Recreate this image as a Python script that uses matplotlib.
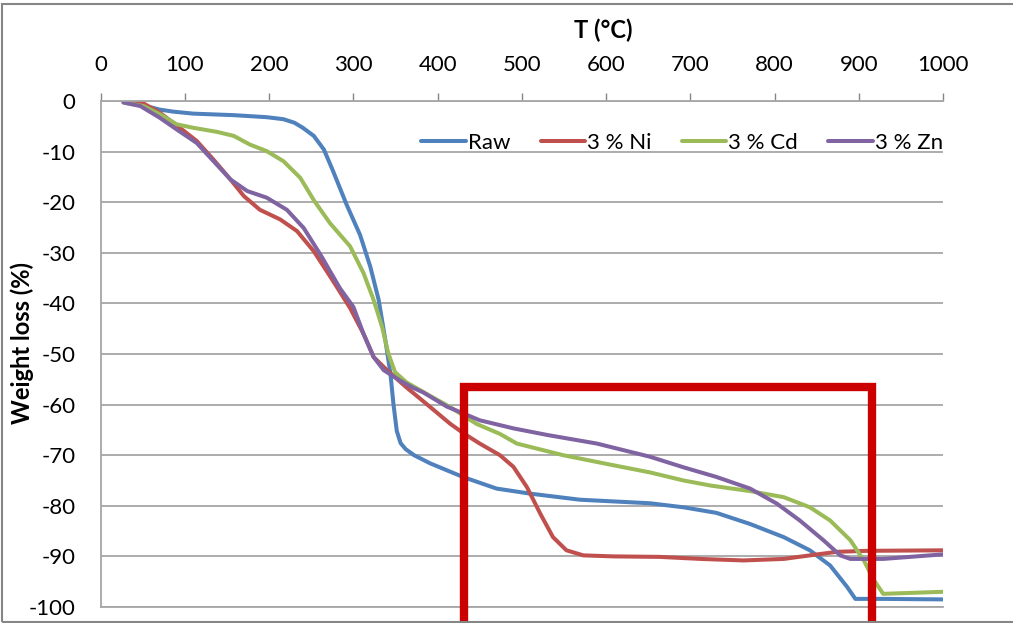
import matplotlib
matplotlib.use("Agg")
import matplotlib.pyplot as plt
from matplotlib.patches import Rectangle
import numpy as np

plt.rcParams['font.family'] = ['Lato', 'DejaVu Sans']
plt.rcParams['axes.unicode_minus'] = False

# TGA curves: temperature (°C) vs weight loss (%)
raw_T = [27, 47, 70, 86, 110, 158, 197, 217, 230, 240, 253, 265, 276, 292, 308, 320, 330,
         338, 344, 347.5, 351.5, 356, 362, 372, 391, 430, 470, 510, 569, 652, 692, 731, 771,
         811, 842, 866, 886, 896, 929, 1000]
raw_W = [0, -0.7, -1.7, -2.1, -2.5, -2.8, -3.2, -3.6, -4.3, -5.3, -6.9, -9.6, -13.9, -20.5,
         -26.5, -32.7, -39.3, -47.3, -53.9, -59.8, -65.2, -67.6, -68.8, -70, -71.6, -74.3,
         -76.6, -77.6, -78.8, -79.5, -80.3, -81.4, -83.6, -86.2, -88.8, -91.8, -96, -98.4,
         -98.4, -98.5]

ni_T = [31, 51, 70, 94, 114, 134, 154, 170, 189, 213, 233, 253, 276, 296, 312, 324, 340,
        363, 387, 415, 431, 450, 474, 490, 506, 522, 537, 553, 573, 609, 664, 712, 763,
        811, 842, 874, 910, 1000]
ni_W = [0, -0.5, -2.3, -5.3, -7.9, -11.6, -15.5, -18.8, -21.5, -23.4, -25.7, -29.7, -35.6,
        -40.9, -46, -50.6, -53.2, -56.6, -59.9, -63.8, -65.7, -67.7, -70, -72.3, -76.3,
        -81.6, -86.2, -88.8, -89.8, -90, -90.1, -90.5, -90.8, -90.5, -89.8, -89.1, -88.9, -88.8]

cd_T = [27, 51, 70, 90, 110, 138, 158, 177, 197, 217, 237, 253, 272, 296, 312, 324, 334,
        341.5, 349.5, 363, 387, 415, 446, 474, 494, 549, 609, 652, 692, 724, 771, 811, 842,
        866, 890, 906, 918, 929, 1000]
cd_W = [-0.3, -1, -2.6, -4.6, -5.3, -6.1, -6.9, -8.6, -9.9, -11.9, -15.2, -19.6, -24.1,
        -28.7, -34, -39.3, -44.6, -49.9, -53.6, -55.6, -57.9, -60.5, -63.8, -65.8, -67.7,
        -70, -72, -73.4, -75, -76, -77.1, -78.3, -80.3, -82.9, -86.8, -90.8, -94.7, -97.4, -97]

zn_T = [27, 47, 70, 90, 114, 134, 154, 174, 197, 221, 241, 261, 284, 300, 312, 324, 336,
        355, 371, 383, 411, 450, 490, 530, 589, 652, 692, 731, 771, 803, 830, 858, 878, 890,
        929, 1000]
zn_W = [-0.3, -1, -3.3, -5.6, -8.3, -11.9, -15.5, -17.8, -19.1, -21.5, -25.1, -30.4, -37,
        -40.7, -46, -50.6, -53.2, -55.2, -56.7, -57.6, -60.4, -63.1, -64.7, -66, -67.7,
        -70.3, -72.4, -74.3, -76.6, -79.6, -82.9, -86.8, -89.8, -90.5, -90.5, -89.6]

series_names = ['Raw', '3 % Ni', '3 % Cd', '3 % Zn']
series_colors = ['#4F81BD', '#C0504D', '#9BBB59', '#8064A2']

# highlighted region (T range and upper weight level)
box_T = [431, 916]
box_top = -56.6

fig = plt.figure(figsize=(10.13, 6.23), dpi=100)
ax = fig.add_axes([0.0994, 0.0257, 0.8315, 0.8122])

curves = [(raw_T, raw_W), (ni_T, ni_W), (cd_T, cd_W), (zn_T, zn_W)]
for (t, w), name, c in zip(curves, series_names, series_colors):
    ax.plot(t, w, color=c, lw=2.9, label=name, solid_capstyle='round',
            solid_joinstyle='round')

ax.set_xlim(0, 1000)
ax.set_ylim(-100, 0)
ax.set_xticks(np.arange(0, 1001, 100))
ax.set_yticks(np.arange(-100, 1, 10))
ax.xaxis.tick_top()
ax.tick_params(axis='x', direction='out', length=6, width=1, color='#868686',
               labelsize=16, pad=13)
ax.tick_params(axis='y', length=0, labelsize=16, pad=18)
ax.yaxis.grid(True, color='#A6A6A6', lw=1.3)
ax.set_axisbelow(True)
for s in ['top', 'left', 'bottom']:
    ax.spines[s].set_color('#A6A6A6')
    ax.spines[s].set_linewidth(1.3)
ax.spines['right'].set_visible(False)

ax.legend(loc='upper right', bbox_to_anchor=(1.0, 0.937), ncol=4, frameon=False,
          fontsize=16, handlelength=2.0, handletextpad=0.1, columnspacing=1.35,
          borderaxespad=0, borderpad=0)

rect = Rectangle((box_T[0], -106), box_T[1] - box_T[0], box_top + 106, fill=False,
                 edgecolor='#CC0000', lw=6, clip_on=False, zorder=5)
ax.add_patch(rect)

fig.text(603 / 1013, 1 - 30 / 623, 'T (°C)', ha='center', va='center',
         fontsize=17, fontweight='bold')
fig.text(22 / 1013, 1 - 343 / 623, 'Weight loss (%)', ha='center', va='center',
         rotation=90, fontsize=17, fontweight='bold')

border = Rectangle((2 / 1013, 1 / 623), 1.2, 1 - 5 / 623, transform=fig.transFigure,
                   fill=False, edgecolor='#868686', lw=1.5)
fig.patches.append(border)

fig.savefig('out.png', dpi=100)
